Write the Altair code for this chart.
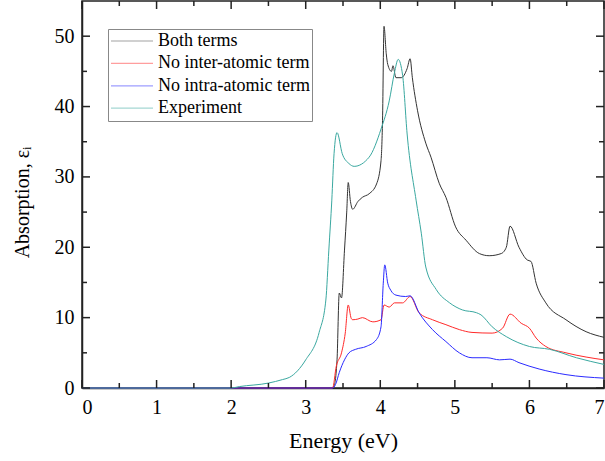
import altair as alt
import pandas as pd

series = ["Both terms", "No inter-atomic term", "No intra-atomic term", "Experiment"]
colors = ["#333333", "#ff2a2a", "#2a2aff", "#3aa8a0"]

both_x = [0, 3.35, 3.38, 3.42, 3.45, 3.48, 3.52, 3.55, 3.57, 3.60, 3.63, 3.70, 3.76, 3.85, 3.95, 4.01, 4.03, 4.05,
          4.08, 4.10, 4.15, 4.17, 4.21, 4.28, 4.36, 4.40, 4.43, 4.50, 4.61, 4.68, 4.79, 4.88, 5.01, 5.15, 5.33,
          5.46, 5.62, 5.69, 5.74, 5.86, 5.97, 6.02, 6.09, 6.22, 6.49, 6.76, 7.0]
both_y = [0, 0, 0.3, 4.0, 13.5, 12.8, 19.6, 25.0, 29.2, 26.5, 25.4, 26.5, 27.1, 27.6, 29.0, 32.3, 38.0, 51.4,
          47.5, 46.0, 45.0, 45.8, 44.1, 44.1, 45.4, 46.8, 44.1, 39.4, 34.8, 32.8, 29.1, 27.1, 22.9, 21.0, 19.1,
          18.8, 19.1, 20.0, 23.0, 20.0, 18.2, 18.0, 14.9, 12.1, 9.7, 8.0, 7.2]

inter_x = [0, 3.36, 3.41, 3.48, 3.53, 3.57, 3.61, 3.63, 3.70, 3.76, 3.90, 4.01, 4.05, 4.12, 4.19, 4.30, 4.40,
           4.52, 4.70, 4.88, 5.06, 5.23, 5.50, 5.64, 5.74, 5.89, 6.00, 6.09, 6.22, 6.49, 6.76, 7.0]
inter_y = [0, 0, 3.1, 5.0, 7.8, 11.8, 9.9, 9.7, 9.8, 10.0, 9.4, 9.7, 11.8, 11.5, 12.1, 12.1, 13.0,
           10.7, 9.7, 9.0, 8.3, 7.9, 7.8, 8.5, 10.5, 9.2, 8.5, 7.1, 5.9, 5.0, 4.4, 4.0]

intra_x = [0, 3.36, 3.40, 3.45, 3.52, 3.58, 3.67, 3.81, 3.95, 4.01, 4.04, 4.06, 4.10, 4.14, 4.21, 4.34, 4.40,
           4.52, 4.70, 4.88, 5.06, 5.23, 5.43, 5.60, 5.74, 5.86, 6.13, 6.49, 7.0]
intra_y = [0, 0, 0.5, 2.2, 4.0, 5.0, 5.5, 5.9, 6.9, 8.7, 14.9, 17.5, 14.9, 13.9, 13.2, 13.0, 13.1,
           10.7, 8.3, 6.6, 5.0, 4.3, 4.3, 4.0, 4.1, 3.6, 2.7, 1.9, 1.4]

exp_x = [0, 2.0, 2.11, 2.5, 2.69, 2.78, 3.0, 3.18, 3.27, 3.31, 3.35, 3.38, 3.42, 3.49, 3.58, 3.65, 3.85, 4.01,
         4.12, 4.19, 4.24, 4.30, 4.36, 4.48, 4.55, 4.61, 4.75, 4.93, 5.10, 5.29, 5.35, 5.50, 5.69, 6.00, 6.27,
         6.63, 7.0]
exp_y = [0, 0, 0.2, 0.7, 1.2, 1.5, 4.0, 7.9, 12.5, 19.6, 26.7, 33.3, 36.3, 33.3, 31.9, 31.5, 32.8, 36.8,
         40.8, 44.8, 46.7, 44.4, 36.1, 26.7, 22.0, 17.2, 14.0, 12.1, 11.1, 10.7, 10.4, 8.7, 7.3, 5.9, 5.5,
         4.3, 3.35]

x_major = [0, 1, 2, 3, 4, 5, 6, 7]
x_minor = [0.5, 1.5, 2.5, 3.5, 4.5, 5.5, 6.5]
y_major = [0, 10, 20, 30, 40, 50]
y_minor = [5, 15, 25, 35, 45]

rows = []
for name, xs_, ys_ in zip(series, [both_x, inter_x, intra_x, exp_x], [both_y, inter_y, intra_y, exp_y]):
    for i, (a, b) in enumerate(zip(xs_, ys_)):
        rows.append({"series": name, "e": a, "v": b, "i": i})
df = pd.DataFrame(rows)

W, H = 522, 387
FONT = "Liberation Serif"
xs = alt.Scale(domain=[0, 7], nice=False, zero=False)
ys = alt.Scale(domain=[0, 55], nice=False, zero=False)

xaxis = alt.Axis(title="Energy (eV)", values=x_major, ticks=False, grid=False,
                 labelFontSize=20, labelColor="black", labelPadding=9,
                 titleFontSize=22, titleFontWeight="normal", titleColor="black", titlePadding=13,
                 domainColor="#222222", domainWidth=1.5)
yaxis = alt.Axis(title="Absorption, εᵢ", values=y_major, ticks=False, grid=False,
                 labelFontSize=20, labelColor="black", labelPadding=8,
                 titleFontSize=20, titleFontWeight="normal", titleColor="black",
                 titleBaseline="middle", titleX=-60, titleY=201,
                 domainColor="#222222", domainWidth=1.5)

lines = alt.Chart(df).mark_line(strokeWidth=1, interpolate="monotone").encode(
    x=alt.X("e:Q", scale=xs, axis=xaxis),
    y=alt.Y("v:Q", scale=ys, axis=yaxis),
    color=alt.Color("series:N", scale=alt.Scale(domain=series, range=colors),
                    legend=alt.Legend(title=None, orient="none", legendX=26, legendY=28,
                                      symbolType="stroke", symbolSize=1764, symbolStrokeWidth=1.2,
                                      symbolOpacity=0.45, labelFontSize=18,
                                      labelColor="black", labelOffset=4, padding=2, rowPadding=2.4,
                                      strokeColor="#888888", fillColor="white", clipHeight=20,
                                      labelLimit=300)),
    order="i:Q",
    detail="series:N",
)

xt = pd.DataFrame({"e": x_major + x_minor, "len": [8] * len(x_major) + [5] * len(x_minor)})
yt = pd.DataFrame({"v": y_major + y_minor, "len": [8] * len(y_major) + [5] * len(y_minor)})

tick_style = dict(color="#222222", strokeWidth=1.5)


def xticks(y0, sign):
    layers = []
    for ln in (8, 5):
        sub = xt[xt["len"] == ln]
        layers.append(alt.Chart(sub).mark_rule(**tick_style).encode(
            x=alt.X("e:Q", scale=xs, axis=xaxis), y=alt.value(y0), y2=alt.value(y0 + sign * ln)))
    return layers


def yticks(x0, sign):
    layers = []
    for ln in (8, 5):
        sub = yt[yt["len"] == ln]
        layers.append(alt.Chart(sub).mark_rule(**tick_style).encode(
            y=alt.Y("v:Q", scale=ys, axis=yaxis), x=alt.value(x0), x2=alt.value(x0 + sign * ln)))
    return layers


tick_layers = xticks(H, -1) + xticks(0, 1) + yticks(0, 1) + yticks(W, -1)

chart = alt.layer(lines, *tick_layers).properties(
    width=W, height=H,
    autosize=alt.AutoSizeParams(type="none"),
    padding={"left": 82, "top": 1, "right": 1, "bottom": 73},
    background="white",
).configure(font=FONT).configure_axis(labelFont=FONT, titleFont=FONT).configure_legend(
    labelFont=FONT
).configure_view(stroke="#222222", strokeWidth=1.5)

chart.save("out.html", embed_options={"renderer": "svg", "actions": False})
